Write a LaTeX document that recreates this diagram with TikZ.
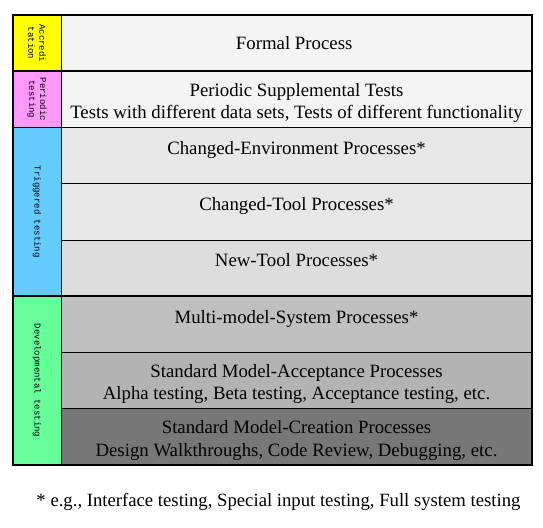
\documentclass[tikz,border=0pt]{standalone}
\usepackage{fontspec}
\setmainfont{Liberation Serif}
\newfontfamily\sidefont{Liberation Mono}
\usetikzlibrary{positioning}

\definecolor{accyellow}{HTML}{FFFF00}
\definecolor{perpink}{HTML}{FF99FF}
\definecolor{trigblue}{HTML}{66CCFF}
\definecolor{devgreen}{HTML}{66FF99}
\definecolor{paleshade}{HTML}{F4F4F4}
\definecolor{trigshade}{HTML}{E8E8E8}
\definecolor{newshade}{HTML}{DDDDDD}
\definecolor{multishade}{HTML}{C0C0C0}
\definecolor{acceptshade}{HTML}{B3B3B3}
\definecolor{createshade}{HTML}{777777}

\begin{document}
\begin{tikzpicture}[
        rowcell/.style={
            draw,
            line width=0.8pt,
            minimum width=471pt,
            minimum height=56.25pt,
            inner sep=0pt,
            outer sep=0pt,
            align=center,
            font=\fontsize{18.8}{22.5}\selectfont
        },
        sidecell/.style={
            draw,
            line width=0.8pt,
            minimum width=48pt,
            inner sep=0pt,
            outer sep=0pt
        },
        sidelabel/.style={
            rotate=-90,
            align=center,
            font=\sidefont\fontsize{9}{11}\selectfont
        },
        groupframe/.style={
            draw,
            line width=1.6pt
        },
        node distance=0pt
    ]

        \useasboundingbox (0pt,0pt) rectangle (543pt,-527pt);

        % ---------------------------------------------------------------------
        % Process rows, top to bottom
        % ---------------------------------------------------------------------

        \node[
            rowcell,
            fill=paleshade,
            anchor=north west
        ] (formal) at (61pt,-15pt) {
            Formal Process
        };

        \node[
            rowcell,
            fill=paleshade,
            below=of formal
        ] (periodic) {
            \rule{0pt}{20pt}Periodic Supplemental Tests\\
            Tests with different data sets, Tests of different functionality
        };

        \node[
            rowcell,
            fill=trigshade,
            below=of periodic
        ] (changedenv) {
            \rule{0pt}{20pt}Changed-Environment Processes*\\
            \mbox{}
        };

        \node[
            rowcell,
            fill=trigshade,
            below=of changedenv
        ] (changedtool) {
            \rule{0pt}{20pt}Changed-Tool Processes*\\
            \mbox{}
        };

        \node[
            rowcell,
            fill=newshade,
            below=of changedtool
        ] (newtool) {
            \rule{0pt}{20pt}New-Tool Processes*\\
            \mbox{}
        };

        \node[
            rowcell,
            fill=multishade,
            below=of newtool
        ] (multimodel) {
            \rule{0pt}{20pt}Multi-model-System Processes*\\
            \mbox{}
        };

        \node[
            rowcell,
            fill=acceptshade,
            below=of multimodel
        ] (acceptance) {
            \rule{0pt}{20pt}Standard Model-Acceptance Processes\\
            Alpha testing, Beta testing, Acceptance testing, etc.
        };

        \node[
            rowcell,
            fill=createshade,
            below=of acceptance
        ] (creation) {
            \rule{0pt}{20pt}Standard Model-Creation Processes\\
            Design Walkthroughs, Code Review, Debugging, etc.
        };

        % ---------------------------------------------------------------------
        % Testing categories on the left
        % ---------------------------------------------------------------------

        \node[
            sidecell,
            fill=accyellow,
            minimum height=56.25pt,
            left=of formal
        ] (acccell) {};
        \node[sidelabel] (acclabel) at (acccell) {Accredi\\tation};

        \node[
            sidecell,
            fill=perpink,
            minimum height=56.25pt,
            left=of periodic
        ] (percell) {};
        \node[sidelabel] (perlabel) at (percell) {Periodic\\testing};

        \node[
            sidecell,
            fill=trigblue,
            minimum height=168.75pt,
            left=of changedtool
        ] (trigcell) {};
        \node[sidelabel] (triglabel) at (trigcell) {Triggered testing};

        \node[
            sidecell,
            fill=devgreen,
            minimum height=168.75pt,
            left=of acceptance
        ] (devcell) {};
        \node[sidelabel] (devlabel) at (devcell) {Developmental testing};

        % ---------------------------------------------------------------------
        % Heavier frames round each category
        % ---------------------------------------------------------------------

        \draw[groupframe] (acccell.north west) rectangle (formal.south east);
        \draw[groupframe] (percell.north west) rectangle (periodic.south east);
        \draw[groupframe] (trigcell.north west) rectangle (newtool.south east);
        \draw[groupframe] (devcell.north west) rectangle (creation.south east);

        % ---------------------------------------------------------------------
        % Footnote
        % ---------------------------------------------------------------------

        \node[
            font=\fontsize{18.7}{22}\selectfont,
            below=25pt of creation,
            xshift=-18pt
        ] (footnote) {
            * e.g., Interface testing, Special input testing, Full system testing
        };

    \end{tikzpicture}
\end{document}
